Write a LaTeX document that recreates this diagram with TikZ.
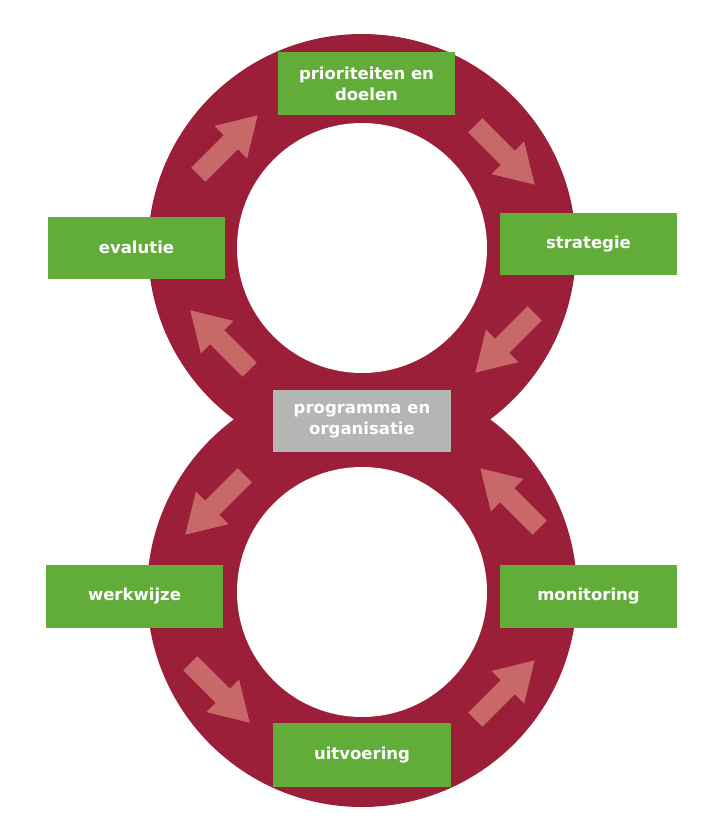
\documentclass[tikz,border=0pt]{standalone}
\usepackage{fontspec}
\setmainfont{DejaVu Sans}
\definecolor{ring}{HTML}{9C1F3A}
\definecolor{boxg}{HTML}{62AC3A}
\definecolor{boxgr}{HTML}{B4B6B3}
\definecolor{arr}{HTML}{C86868}
\begin{document}
\begin{tikzpicture}[x=1pt,y=-1pt,
  box/.style={fill=boxg,draw=none,text=white,font=\bfseries\fontsize{16.5}{21}\selectfont,align=center,inner sep=0pt},
  arrowshape/.style={fill=arr,draw=none}]
\useasboundingbox (0,0) rectangle (724,840);
\fill[ring] (362,248) circle (214);
\fill[ring] (362,592) circle (215);
\fill[white] (362,248) circle (125);
\fill[white] (362,592) circle (125);
\newcommand{\blockarrow}[3]{%
  \begin{scope}[shift={(#1,#2)},rotate=#3]
    \fill[arrowshape] (-42,-10) -- (4,-10) -- (4,-23) -- (42,0) -- (4,23) -- (4,10) -- (-42,10) -- cycle;
  \end{scope}}
\blockarrow{228}{145}{45}
\blockarrow{505}{155}{-45}
\blockarrow{505}{343}{-135}
\blockarrow{220}{340}{135}
\blockarrow{215}{505}{-135}
\blockarrow{510}{498}{135}
\blockarrow{220}{693}{-45}
\blockarrow{505}{690}{45}
\node[box,minimum width=177,minimum height=63] (prio) at (366.5,83.5) {prioriteiten en\\doelen};
\node[box,minimum width=177,minimum height=62] (eval) at (136.5,247.5) {evalutie};
\node[box,minimum width=177,minimum height=62] (strat) at (588.5,244) {strategie};
\node[box,fill=boxgr,minimum width=178,minimum height=62] (prog) at (362,421) {programma en\\organisatie};
\node[box,minimum width=177,minimum height=63] (werk) at (134.5,596.5) {werkwijze};
\node[box,minimum width=177,minimum height=63] (moni) at (588.5,596.5) {monitoring};
\node[box,minimum width=178,minimum height=64] (uitv) at (362,755) {uitvoering};
\end{tikzpicture}
\end{document}
